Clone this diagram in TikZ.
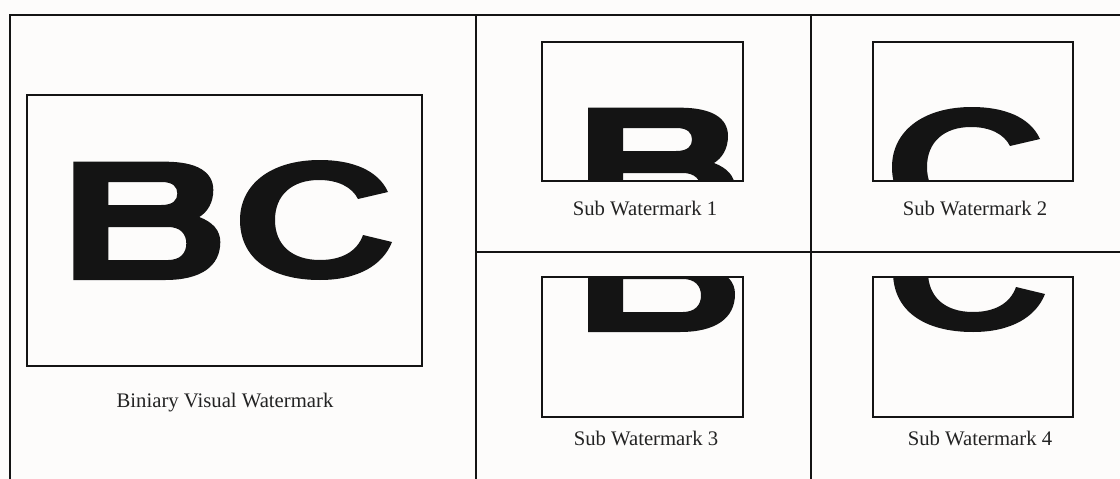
\documentclass[tikz,border=0pt]{standalone}
\usepackage{fontspec}
\setmainfont{Liberation Serif}
\definecolor{bgc}{RGB}{253,252,251}
\definecolor{ink}{RGB}{20,20,20}
\definecolor{txt}{RGB}{35,35,35}
\newcommand\glyphB[1]{%
  \begin{scope}[shift={#1},yscale=-1]
    \fill[ink,even odd rule]
      (0,0) -- (0,118.3) -- (92,118.3)
        .. controls (124,118.3) and (140,108) .. (140,90)
        .. controls (140,77) and (134,68) .. (126,63)
        .. controls (139,58) and (147,50) .. (147,38)
        .. controls (147,14) and (128,0) .. (92,0) -- cycle
      (35,75) -- (35,98) -- (88,98)
        .. controls (100,98) and (104,93) .. (104,86.5)
        .. controls (104,80) and (100,75) .. (88,75) -- cycle
      (35,20) -- (35,53) -- (95,53)
        .. controls (107,53) and (113,46) .. (113,36.5)
        .. controls (113,27) and (107,20) .. (95,20) -- cycle;
  \end{scope}}
\newcommand\glyphC[1]{%
  \begin{scope}[shift={#1},yscale=-1]
    \fill[ink]
      (148,88) .. controls (138,110) and (112,120) .. (80,120)
        .. controls (30,120) and (0,95) .. (0,60)
        .. controls (0,22) and (30,0) .. (80,0)
        .. controls (118,0) and (143,15) .. (152,38)
        -- (123,45)
        .. controls (117,28) and (101,20) .. (80,20)
        .. controls (52,20) and (35,35) .. (35,60)
        .. controls (35,85) and (52,100) .. (79,100)
        .. controls (98,100) and (112,93) .. (118,81) -- cycle;
  \end{scope}}
\begin{document}
\begin{tikzpicture}[x=1pt,y=-1pt,
  frameline/.style={line width=2pt,ink},
  wbox/.style={draw=ink,line width=1.8pt,inner sep=0pt,fill=none},
  lab/.style={font=\fontsize{20.7}{24}\selectfont,text=txt,inner sep=0pt}]
\useasboundingbox (0,0) rectangle (1120,479);
\fill[bgc] (0,0) rectangle (1120,479);
% frame
\draw[frameline] (10,479) -- (10,15) -- (1120,15);
\draw[frameline] (476,15) -- (476,479);
\draw[frameline] (811,15) -- (811,479);
\draw[frameline] (476,252) -- (1120,252);
% letters
\glyphB{(73.3,280)}
\glyphC{(240,280)}
\begin{scope}\clip (542,42) rectangle (743,181); \glyphB{(588,226)} \end{scope}
\begin{scope}\clip (873,42) rectangle (1073,181); \glyphC{(892,227)} \end{scope}
\begin{scope}\clip (542,277) rectangle (743,417); \glyphB{(588,332)} \end{scope}
\begin{scope}\clip (873,277) rectangle (1073,417); \glyphC{(893,332)} \end{scope}
% boxes
\node[wbox,minimum width=395pt,minimum height=271pt] (big) at (224.5,230.5) {};
\node[wbox,minimum width=201pt,minimum height=139pt] (s1) at (642.5,111.5) {};
\node[wbox,minimum width=200pt,minimum height=139pt] (s2) at (973,111.5) {};
\node[wbox,minimum width=201pt,minimum height=140pt] (s3) at (642.5,347) {};
\node[wbox,minimum width=200pt,minimum height=140pt] (s4) at (973,347) {};
% labels
\node[lab] (lbig) at (225,403) {Biniary Visual Watermark};
\node[lab] (l1) at (645,208) {Sub Watermark 1};
\node[lab] (l2) at (975,208) {Sub Watermark 2};
\node[lab] (l3) at (646,438) {Sub Watermark 3};
\node[lab] (l4) at (980,438) {Sub Watermark 4};
\end{tikzpicture}
\end{document}
